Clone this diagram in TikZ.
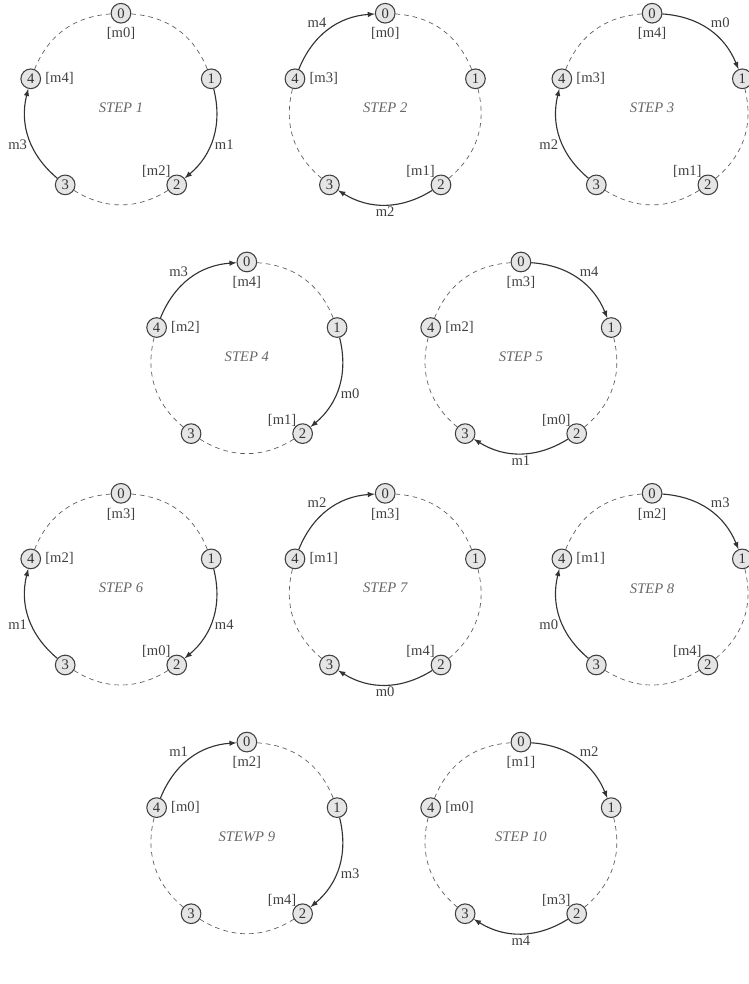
\documentclass[tikz,border=0pt]{standalone}
\usepackage{fontspec}
\setmainfont{Liberation Serif}
\usetikzlibrary{positioning}

\tikzset{
  proc/.style={circle, draw=black!75, thick, fill=gray!20, inner sep=1pt,
               minimum size=0.52cm, font=\fontsize{11}{13}\selectfont, text=black!80},
  buf/.style={inner sep=1pt, font=\fontsize{11}{13}\selectfont, text=black!75},
  steptxt/.style={font=\fontsize{11}{13}\selectfont\itshape, text=black!60},
  msg/.style={->, >=latex, line width=0.85pt, draw=black!80},
  msglbl/.style={auto, inner sep=1pt, font=\fontsize{11}{13}\selectfont, text=black!75},
  idle/.style={dash pattern=on 3.5pt off 3pt, line width=0.5pt, draw=black!65}
}

\begin{document}
\begin{tikzpicture}
  \useasboundingbox (0,0) rectangle (19.79,-26.03);

  % the rings, one per step
  \foreach \s/\x/\y/\t in {1/3.2/-2.86/STEP 1, 2/10.19/-2.86/STEP 2, 3/17.25/-2.86/STEP 3,
                           4/6.53/-9.44/STEP 4, 5/13.78/-9.44/STEP 5,
                           6/3.2/-15.56/STEP 6, 7/10.19/-15.56/STEP 7, 8/17.25/-15.56/STEP 8,
                           9/6.53/-22.14/STEWP 9, 10/13.78/-22.14/STEP 10}{
    \begin{scope}[shift={(\x,\y)}]
      \node[steptxt] (t\s) at (0,0) {\t};
      \foreach \k in {0,...,4}
        \node[proc] (s\s-\k) at (90-72*\k:2.51) {\k};
    \end{scope}
  }

  % buffered messages
  \foreach \s/\a/\b/\c in {1/m0/m4/m2, 2/m0/m3/m1, 3/m4/m3/m1, 4/m4/m2/m1, 5/m3/m2/m0,
                           6/m3/m2/m0, 7/m3/m1/m4, 8/m2/m1/m4, 9/m2/m0/m4, 10/m1/m0/m3}{
    \node[buf, below=2pt of s\s-0] (b\s-0) {[\a]};
    \node[buf, right=2pt of s\s-4] (b\s-4) {[\b]};
    \node[buf, above left=-1pt and -2pt of s\s-2] (b\s-2) {[\c]};
  }

  % idle links
  \foreach \s/\pairs in {1/{0/1,2/3,4/0}, 2/{0/1,1/2,3/4}, 3/{1/2,2/3,4/0}, 4/{0/1,2/3,3/4},
                         5/{1/2,3/4,4/0}, 6/{0/1,2/3,4/0}, 7/{0/1,1/2,3/4}, 8/{1/2,2/3,4/0},
                         9/{0/1,2/3,3/4}, 10/{1/2,3/4,4/0}}{
    \foreach \a/\b in \pairs
      \draw[idle] (s\s-\a) to[bend left=32] (s\s-\b);
  }

  % messages in transit
  \foreach \s/\a/\b/\m in {1/1/2/m1, 1/3/4/m3, 2/4/0/m4, 2/2/3/m2, 3/0/1/m0, 3/3/4/m2,
                           4/4/0/m3, 4/1/2/m0, 5/0/1/m4, 5/2/3/m1, 6/1/2/m4, 6/3/4/m1,
                           7/4/0/m2, 7/2/3/m0, 8/0/1/m3, 8/3/4/m0, 9/4/0/m1, 9/1/2/m3,
                           10/0/1/m2, 10/2/3/m4}
    \draw[msg] (s\s-\a) to[bend left=32] node[msglbl] (l\s-\a) {\m} (s\s-\b);
\end{tikzpicture}
\end{document}
